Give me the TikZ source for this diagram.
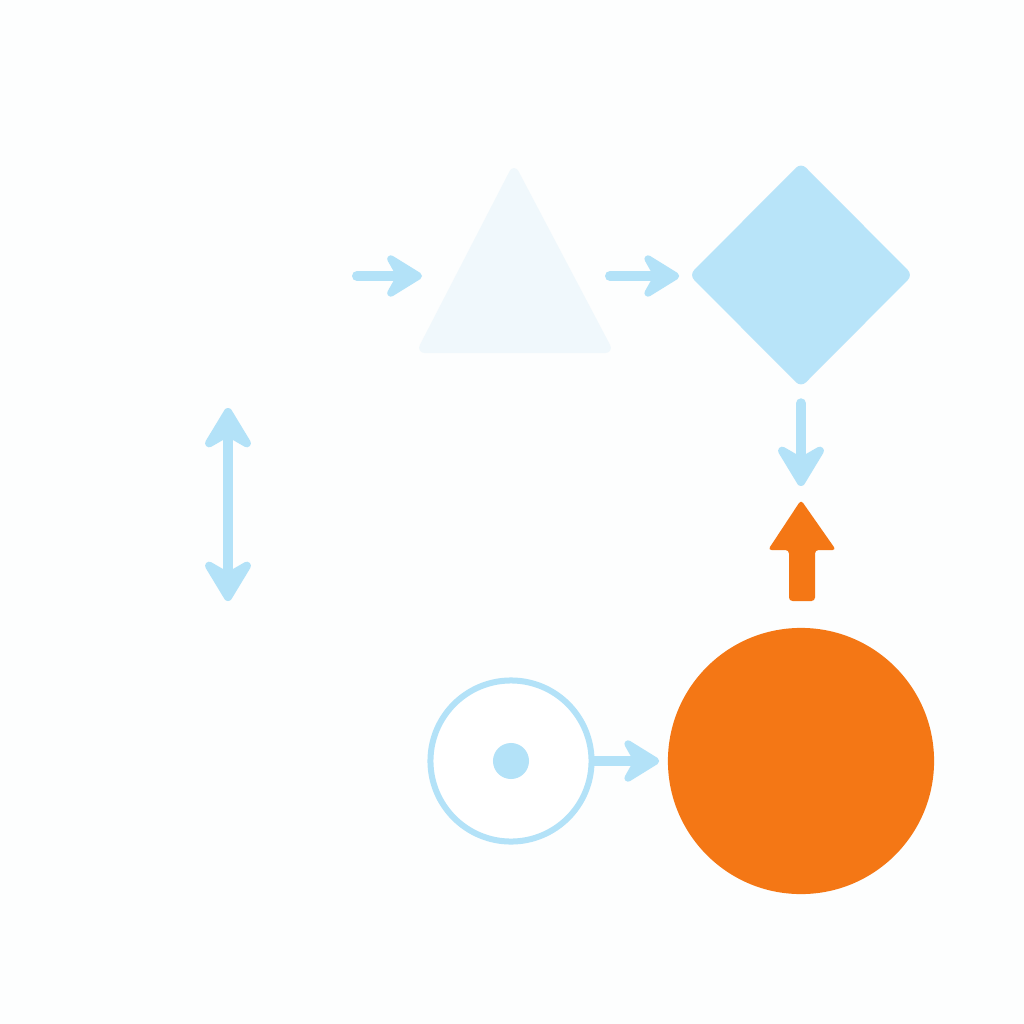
\documentclass[tikz,border=0pt]{standalone}
\usetikzlibrary{arrows.meta,shapes.geometric}
\definecolor{skyblue}{HTML}{B3E2F8}
\definecolor{diamondblue}{HTML}{B8E4F9}
\definecolor{paleblue}{HTML}{F0F8FC}
\definecolor{signalorange}{HTML}{F47715}
\definecolor{bgwhite}{HTML}{FDFEFE}
\begin{document}
\begin{tikzpicture}[x=0.01cm,y=-0.01cm]
% Definição de estilos
\tikzset{
  link/.style={draw=skyblue, line width=0.1cm, line cap=round, >={Stealth[length=0.44cm,width=0.54cm,inset=0.15cm,round]}, ->},
  biglink/.style={draw=skyblue, line width=0.1cm, line cap=round, >={Stealth[length=0.5cm,width=0.6cm,inset=0.17cm,round]}, ->},
  diamond_shape/.style={diamond, fill=diamondblue, aspect=1, inner sep=0pt, minimum width=2.24cm, minimum height=2.25cm, rounded corners=2pt},
  ring_shape/.style={circle, draw=skyblue, line width=0.06cm, fill=white, inner sep=0pt, minimum size=1.61cm},
  dot_shape/.style={circle, fill=skyblue, inner sep=0pt, minimum size=0.36cm},
  ball_shape/.style={circle, fill=signalorange, inner sep=0pt, minimum size=2.66cm}
}

% Fundo
\fill[bgwhite] (0,0) rectangle (1024,1024);
\useasboundingbox (0,0) rectangle (1024,1024);

% Triangulo
\filldraw[fill=paleblue, draw=paleblue, line width=0.04cm, line join=round, rounded corners=0.06cm]
  (514,167) coordinate (tri_top) -- (611,351) coordinate (tri_right) -- (419,351) coordinate (tri_left) -- cycle;
\coordinate (tri_in) at (422,276);
\coordinate (tri_out) at (610,276);

% Losango
\node[diamond_shape] (diamond_node) at (801,275) {};

% Seta laranja
\fill[signalorange, rounded corners=1pt] (801,500) coordinate (up_tip) -- (836,550) -- (815,550) -- (815,601)
  -- (789,601) -- (789,550) -- (768,550) -- cycle;

% Circulos
\node[ring_shape] (ring_node) at (511,761) {};
\node[dot_shape] (dot_node) at (511,761) {};
\node[ball_shape] (ball_node) at (801,761) {};

% Pontas livres
\coordinate (in_point) at (357,276);
\coordinate (span_top) at (228,408);
\coordinate (span_bottom) at (228,601);

% Ligacoes
\draw[link] (in_point) -- (tri_in);
\draw[link, shorten >=0.09cm] (tri_out) -- (tri_out -| diamond_node.west);
\draw[biglink, shorten <=0.15cm, shorten >=0.14cm] (diamond_node.south) -- (up_tip);
\draw[biglink, <->] (span_top) -- (span_bottom);
\draw[link, shorten >=0.08cm] (ring_node.east) -- (ball_node.west);

\end{tikzpicture}
\end{document}
